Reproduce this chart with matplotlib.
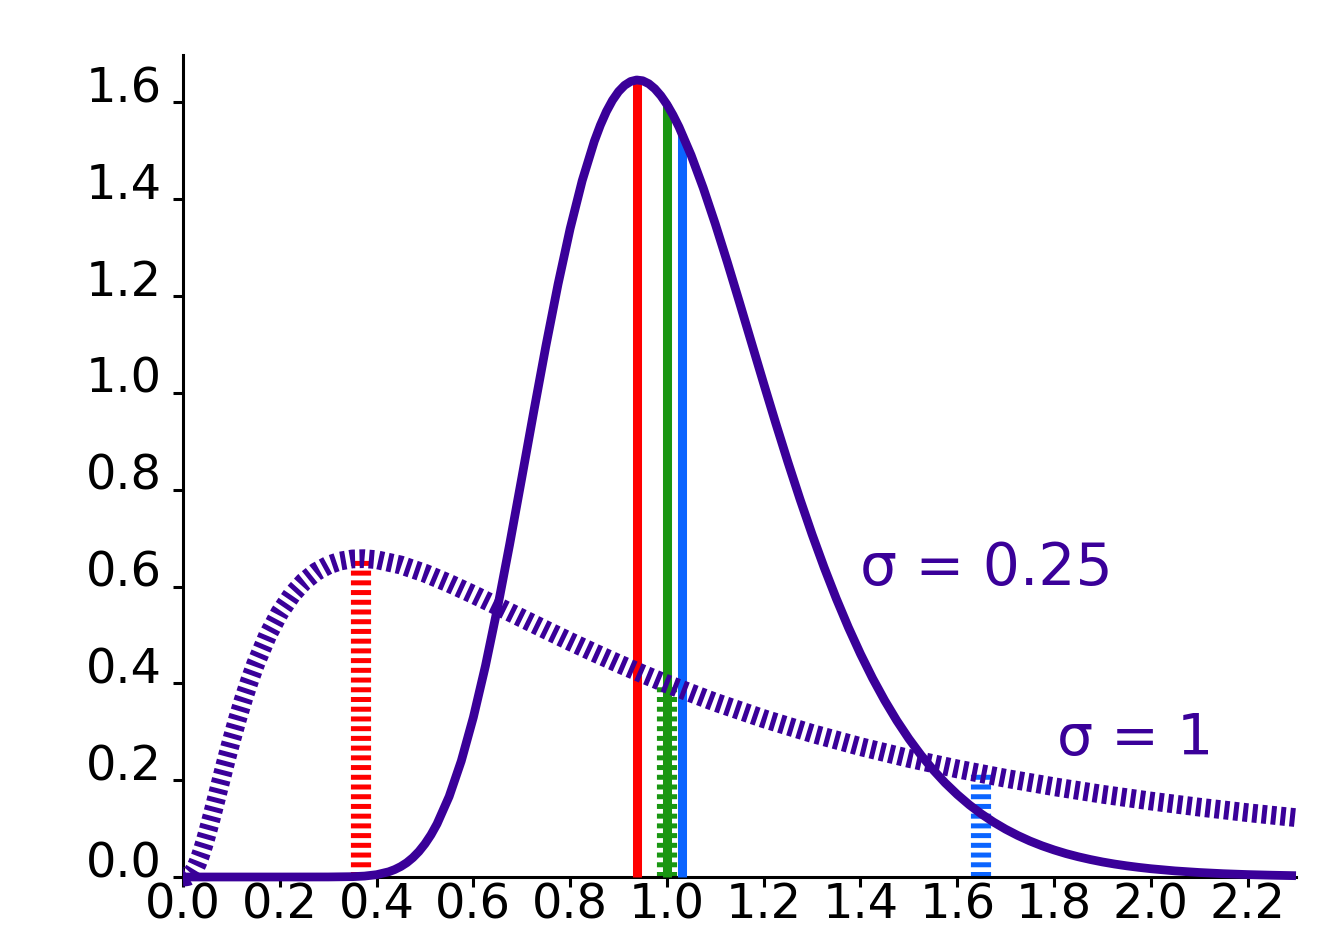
import numpy as np
import matplotlib
matplotlib.use('Agg')
import matplotlib.pyplot as plt

# log-normal densities, values
x_narrow = [0.0, 0.1, 0.2, 0.3, 0.35, 0.375, 0.4, 0.425, 0.4375, 0.45, 0.4625, 0.475, 0.4875,
            0.5, 0.5125, 0.525, 0.55, 0.575, 0.6, 0.625, 0.65, 0.675, 0.7, 0.725, 0.75,
            0.775, 0.8, 0.825, 0.85, 0.8625, 0.875, 0.8875, 0.9, 0.9125, 0.925, 0.9375,
            0.95, 0.9625, 0.975, 0.9875, 1.0, 1.0125, 1.025, 1.05,
            1.075, 1.1, 1.125, 1.15, 1.175, 1.2, 1.225, 1.25, 1.275, 1.3, 1.325, 1.35,
            1.375, 1.4, 1.425, 1.45, 1.475, 1.5, 1.525, 1.55, 1.575, 1.6, 1.625, 1.65,
            1.675, 1.7, 1.725, 1.75, 1.775, 1.8, 1.825, 1.85, 1.875, 1.9, 1.925, 1.95,
            1.975, 2.0, 2.05, 2.1, 2.15, 2.2, 2.25, 2.3]
pdf_narrow = [0.0, 0.0, 0.0, 0.0001, 0.0007, 0.0019, 0.0048, 0.0107, 0.0154, 0.0216, 0.0296,
              0.0399, 0.0527, 0.0684, 0.0872, 0.1097, 0.1663, 0.2395, 0.3298, 0.4361,
              0.5563, 0.6870, 0.8239, 0.9624, 1.0974, 1.2244, 1.3393, 1.4386, 1.5198,
              1.5531, 1.5814, 1.6044, 1.6224, 1.6353, 1.6433, 1.6464, 1.6448, 1.6387,
              1.6283, 1.6139, 1.5958, 1.5741, 1.5493, 1.4911, 1.4236,
              1.3490, 1.2695, 1.1869, 1.1030, 1.0193, 0.9370, 0.8572, 0.7805, 0.7077,
              0.6392, 0.5751, 0.5156, 0.4608, 0.4105, 0.3647, 0.3231, 0.2856, 0.2518,
              0.2215, 0.1944, 0.1704, 0.1490, 0.1301, 0.1134, 0.0987, 0.0858, 0.0744,
              0.0645, 0.0559, 0.0483, 0.0418, 0.0361, 0.0311, 0.0268, 0.0231, 0.0199,
              0.0171, 0.0126, 0.0093, 0.0068, 0.0050, 0.0037, 0.0027]

x_wide = [0.0, 0.005, 0.01, 0.015, 0.02, 0.025, 0.03, 0.035, 0.04, 0.045, 0.05, 0.055, 0.06,
          0.065, 0.07, 0.075, 0.08, 0.0875, 0.1, 0.1125, 0.125, 0.1375, 0.15, 0.175, 0.2,
          0.225, 0.25, 0.275, 0.3, 0.325, 0.35, 0.375, 0.4, 0.45, 0.5, 0.55, 0.6, 0.65,
          0.7, 0.75, 0.8, 0.85, 0.9, 0.95, 1.0, 1.1, 1.2, 1.3, 1.4, 1.5, 1.6, 1.7, 1.8,
          1.9, 2.0, 2.1, 2.2, 2.3]
pdf_wide = [0.0, 0.0001, 0.001, 0.0039, 0.0095, 0.0177, 0.0284, 0.0413, 0.0562, 0.0724,
            0.0899, 0.1082, 0.1271, 0.1464, 0.1660, 0.1857, 0.2053, 0.2345, 0.2815,
            0.3259, 0.3673, 0.4052, 0.4398, 0.4991, 0.5463, 0.5829, 0.6104, 0.6305,
            0.6442, 0.6527, 0.6570, 0.6576, 0.6555, 0.6445, 0.6275, 0.6066, 0.5836,
            0.5594, 0.5348, 0.5104, 0.4864, 0.4632, 0.4408, 0.4194, 0.3989, 0.3610,
            0.3270, 0.2965, 0.2693, 0.2450, 0.2233, 0.2039, 0.1865, 0.1709, 0.1569,
            0.1443, 0.1329, 0.1226]

# mode, median, mean and the density there
stat_colors = ['#ff0000', '#1a9612', '#0b64ff']
stats_narrow_x = [0.939, 1.0, 1.032]
stats_narrow_y = [1.647, 1.596, 1.535]
stats_wide_x = [0.368, 1.0, 1.649]
stats_wide_y = [0.658, 0.399, 0.2135]

xticks = [0.0, 0.2, 0.4, 0.6, 0.8, 1.0, 1.2, 1.4, 1.6, 1.8, 2.0, 2.2]
yticks = [0.0, 0.2, 0.4, 0.6, 0.8, 1.0, 1.2, 1.4, 1.6]

purple = '#3a0099'
plt.rcParams['lines.scale_dashes'] = False

fig = plt.figure(figsize=(13.34, 9.49), dpi=100)
ax = fig.add_axes([183/1334, 72/949, 1113/1334, 822/949])

for xs, ys, c in zip(stats_wide_x, stats_wide_y, stat_colors):
    ax.plot([xs, xs], [0, ys], color=c, lw=14.5, linestyle=(0, (3.6, 3.4)),
            zorder=2, clip_on=False)
for xs, ys, c in zip(stats_narrow_x, stats_narrow_y, stat_colors):
    ax.plot([xs, xs], [0, ys], color=c, lw=6.5, solid_capstyle='butt', zorder=3, clip_on=False)

ax.plot(x_wide, pdf_wide, color=purple, lw=13.5, linestyle=(0, (3.6, 3.2)), zorder=4,
        clip_on=False)
ax.plot(x_narrow, pdf_narrow, color=purple, lw=6.3, solid_capstyle='butt',
        solid_joinstyle='round', zorder=5, clip_on=False)

ax.text(1.40, 0.603, 'σ = 0.25', color=purple, fontsize=42, ha='left', va='baseline')
ax.text(1.806, 0.252, 'σ = 1', color=purple, fontsize=41, ha='left', va='baseline')

ax.set_xlim(0, 2.3)
ax.set_ylim(0, 1.698)
ax.set_xticks(xticks)
ax.set_xticklabels(['%.1f' % v for v in xticks])
ax.set_yticks(yticks)
ax.set_yticklabels(['%.1f' % v for v in yticks])
for s in ['top', 'right']:
    ax.spines[s].set_visible(False)
for s in ['left', 'bottom']:
    ax.spines[s].set_linewidth(2.2)
ax.tick_params(axis='y', direction='out', length=7.2, width=2.2, labelsize=34.5, pad=8)
ax.tick_params(axis='x', direction='out', length=7.2, width=2.2, labelsize=34.5, pad=-4)
for lab in ax.get_yticklabels():
    lab.set_va('baseline')

fig.savefig('out.png', dpi=100)
